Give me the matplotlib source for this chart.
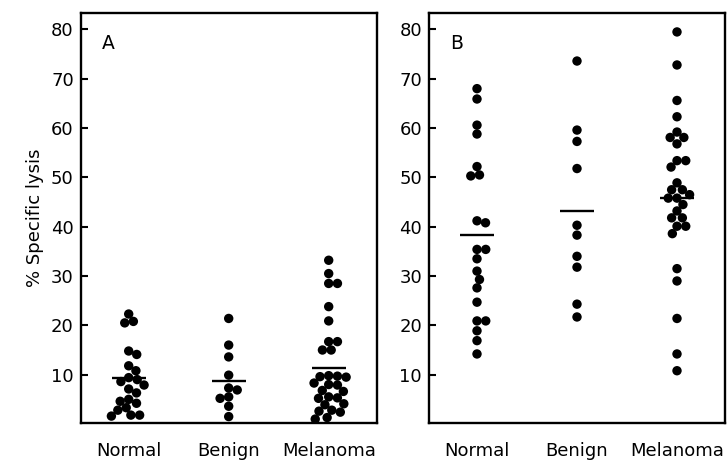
import numpy as np
import matplotlib.pyplot as plt

# Categories and tick values
groups = ["Normal", "Benign", "Melanoma"]
y_ticks = [10, 20, 30, 40, 50, 60, 70, 80]

# Panel A: % specific lysis per subject
normal_a = [22.3, 20.8, 20.5, 14.8, 14.1, 11.8, 10.8, 9.4, 9.0, 8.6, 7.9,
            7.1, 6.3, 5.0, 4.6, 4.2, 3.3, 2.8, 1.8, 1.6, 1.8]
benign_a = [21.4, 16.0, 13.6, 9.9, 7.3, 6.9, 5.5, 5.2, 3.6, 1.5]
melanoma_a = [33.2, 30.5, 28.5, 28.5, 23.8, 20.9, 16.7, 16.7, 15.0, 15.0,
              9.8, 9.7, 9.6, 9.5, 8.3, 8.0, 7.9, 6.8, 6.6, 5.5, 5.3, 5.2,
              4.1, 3.9, 2.8, 2.6, 2.4, 1.3, 1.0]
means_a = [9.3, 8.8, 11.3]

# Panel B
normal_b = [68.0, 65.9, 60.6, 58.8, 52.2, 50.5, 50.3, 41.2, 40.8, 35.4, 35.4,
            33.5, 31.0, 29.3, 27.6, 24.7, 20.9, 20.9, 18.9, 16.9, 14.2]
benign_b = [73.6, 59.6, 57.3, 51.8, 40.3, 38.3, 34.0, 31.8, 24.3, 21.7]
melanoma_b = [79.5, 72.8, 65.6, 62.3, 59.2, 58.1, 58.1, 56.8, 53.4, 53.4,
              52.1, 48.9, 47.5, 47.5, 46.5, 45.8, 45.8, 44.5, 43.2, 41.8,
              41.8, 40.1, 40.1, 38.6, 31.5, 29.0, 21.4, 14.2, 10.8]
means_b = [38.4, 43.1, 45.8]

DOT = 9.4  # dot diameter in pixels


def swarm_offsets(ax, x0, values, diam):
    # simple beeswarm: place each point as close to the centre as possible
    trans = ax.transData
    ys = trans.transform(np.column_stack([np.full(len(values), x0), values]))[:, 1]
    px_per_x = trans.transform([[1, 0]])[0][0] - trans.transform([[0, 0]])[0][0]
    order = np.argsort(-np.asarray(values), kind="stable")
    placed = []
    offsets = np.zeros(len(values))
    for i in order:
        y = ys[i]
        cands = [0.0]
        for px, py in placed:
            dy = abs(py - y)
            if dy < diam:
                dx = np.sqrt(diam**2 - dy**2)
                cands += [px + dx, px - dx]
        cands.sort(key=abs)
        for c in cands:
            ok = all((c - px) ** 2 + (y - py) ** 2 >= diam**2 - 1e-6 for px, py in placed)
            if ok:
                placed.append((c, y))
                offsets[i] = c / px_per_x
                break
    return offsets


def draw_panel(ax, data, means, letter):
    ax.set_xlim(-0.48, 2.48)
    ax.set_ylim(0.2, 83.4)
    ax.set_yticks(y_ticks)
    ax.set_xticks(range(len(groups)))
    ax.set_xticklabels(groups)
    ax.tick_params(axis="y", direction="in", length=5, width=1.5, pad=5, labelsize=13)
    ax.tick_params(axis="x", length=0, pad=14, labelsize=13)
    for s in ax.spines.values():
        s.set_linewidth(1.7)

    for i, vals in enumerate(data):
        off = swarm_offsets(ax, i, vals, DOT * 0.93)
        ax.scatter(i + off, vals, s=(DOT * 0.72) ** 2, color="black",
                   edgecolors="none", zorder=3, clip_on=False)
        ax.hlines(means[i], i - 0.17, i + 0.17, color="black", lw=1.7, zorder=2)

    ax.text(0.071, 0.948, letter, transform=ax.transAxes, ha="left", va="top",
            fontsize=13.5)


fig = plt.figure(figsize=(7.28, 4.66), dpi=100)
ax_a = fig.add_axes([80.7 / 728, 43 / 466, 296 / 728, 410.3 / 466])
ax_b = fig.add_axes([429 / 728, 43 / 466, 296 / 728, 410.3 / 466])

draw_panel(ax_a, [normal_a, benign_a, melanoma_a], means_a, "A")
draw_panel(ax_b, [normal_b, benign_b, melanoma_b], means_b, "B")

fig.text(35 / 728, 1 - 218 / 466, "% Specific lysis", rotation=90,
         ha="center", va="center", fontsize=13)

fig.savefig("out.png", dpi=100)
